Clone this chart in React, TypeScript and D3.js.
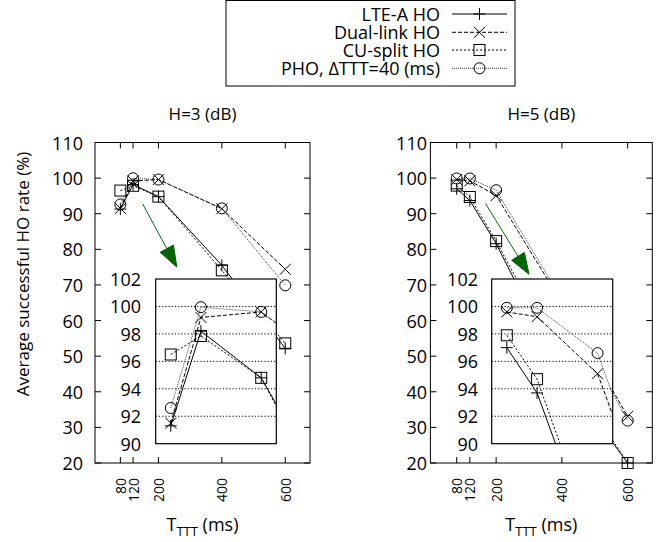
import React from 'react';
import * as d3 from 'd3';

// ---------- data ----------
const tttValues = [80, 120, 200, 400, 600];
const h3LTE = [91.3, 98.2, 94.8, 75.5, 52.2];
const h3Dual = [91.5, 99.2, 99.6, 91.4, 74.4];
const h3CU = [96.5, 97.85, 94.8, 74.1, 53.6];
const h3PHO = [92.6, 99.95, 99.6, 91.5, 69.9];
const h5LTE = [97.0, 93.7, 81.6, 45, 20];
const h5Dual = [99.6, 99.25, 95.1, 65, 33.1];
const h5CU = [97.9, 94.7, 82.3, 48, 20];
const h5PHO = [99.9, 99.9, 96.6, 66, 31.9];

const xTickValues = [80, 120, 200, 400, 600];
const yTickValues = [20, 30, 40, 50, 60, 70, 80, 90, 100, 110];
const insetTickValues = [90, 92, 94, 96, 98, 100, 102];
const seriesNames = ['LTE-A HO', 'Dual-link HO', 'CU-split HO', 'PHO, \u0394TTT=40 (ms)'];
const panelTitles = ['H=3 (dB)', 'H=5 (dB)'];
const yAxisTitle = 'Average successful HO rate (%)';
// arrow annotations in data coordinates [x0, y0, x1, y1]
const arrowH3 = [150, 92.8, 258, 75];
const arrowH5 = [168, 92.8, 300, 73];

// ---------- styles ----------
const FONT = 'Open Sans, Noto Sans, sans-serif';
const styles = [
  { dash: 'none', color: '#000', marker: 'plus', width: 1 },
  { dash: '4,2', color: '#000', marker: 'cross', width: 1 },
  { dash: '2,2', color: '#000', marker: 'square', width: 1 },
  { dash: '1,1', color: '#444', marker: 'circle', width: 1 },
];

function Marker({ type, x, y }: { type: string; x: number; y: number }) {
  const s = 5.5;
  const common = { fill: 'none', stroke: '#000', strokeWidth: 1 };
  if (type === 'plus')
    return <path d={`M${x - s - 0.5},${y}H${x + s + 0.5}M${x},${y - s - 0.5}V${y + s + 0.5}`} {...common} />;
  if (type === 'cross')
    return <path d={`M${x - s},${y - s}L${x + s},${y + s}M${x - s},${y + s}L${x + s},${y - s}`} {...common} />;
  if (type === 'square') return <rect x={x - s} y={y - s} width={2 * s} height={2 * s} {...common} />;
  return <circle cx={x} cy={y} r={s} {...common} />;
}

function Series({ xs, ys, xScale, yScale, style, clip }: any) {
  const line = d3
    .line<number>()
    .x((_, i) => xScale(xs[i]))
    .y((d) => yScale(d));
  return (
    <g clipPath={clip}>
      <path d={line(ys) || ''} fill="none" stroke={style.color} strokeWidth={style.width} strokeDasharray={style.dash} />
      {ys.map((v: number, i: number) => (
        <Marker key={i} type={style.marker} x={xScale(xs[i])} y={yScale(v)} />
      ))}
    </g>
  );
}

function Panel({ id, x0, x1, xMax, yLabelX, insetX0, insetX1, insetLabelX, data, title, arrow }: any) {
  const top = 142.5;
  const bottom = 463;
  const xScale = d3.scaleLinear().domain([0, xMax]).range([x0, x1]);
  const yScale = d3.scaleLinear().domain([20, 110]).range([bottom, top]);
  const iTop = 279;
  const iBottom = 443.7;
  const ixScale = d3.scaleLinear().domain([60, 220]).range([insetX0, insetX1]);
  const iyScale = d3.scaleLinear().domain([90, 102]).range([iBottom, iTop]);
  const tick = 6;
  const cx = (x0 + x1) / 2;

  // arrow
  const ax0 = xScale(arrow[0]);
  const ay0 = yScale(arrow[1]);
  const ax1 = xScale(arrow[2]);
  const ay1 = yScale(arrow[3]);
  const len = Math.hypot(ax1 - ax0, ay1 - ay0);
  const ux = (ax1 - ax0) / len;
  const uy = (ay1 - ay0) / len;
  const hl = 21;
  const hw = 7.5;
  const bx = ax1 - ux * hl;
  const by = ay1 - uy * hl;

  return (
    <g>
      <defs>
        <clipPath id={`inset-${id}`}>
          <rect x={insetX0} y={iTop} width={insetX1 - insetX0} height={iBottom - iTop} />
        </clipPath>
      </defs>
      <text x={cx} y={119.5} textAnchor="middle" fontSize={17} fontFamily={FONT}>
        {title}
      </text>
      {/* frame */}
      <rect x={x0} y={top} width={x1 - x0} height={bottom - top} fill="none" stroke="#000" strokeWidth={1} />
      {yTickValues.map((v) => (
        <g key={v}>
          <line x1={x0} x2={x0 + tick} y1={yScale(v)} y2={yScale(v)} stroke="#000" />
          <line x1={x1} x2={x1 - tick} y1={yScale(v)} y2={yScale(v)} stroke="#000" />
          <text x={yLabelX} y={yScale(v)} textAnchor="end" dominantBaseline="central" fontSize={18} fontFamily={FONT}>
            {v}
          </text>
        </g>
      ))}
      {xTickValues.map((v) => (
        <g key={v}>
          <line x1={xScale(v)} x2={xScale(v)} y1={bottom} y2={bottom - tick} stroke="#000" />
          <line x1={xScale(v)} x2={xScale(v)} y1={top} y2={top + tick} stroke="#000" />
          <text
            transform={`translate(${xScale(v)},478) rotate(-90)`}
            textAnchor="end"
            dominantBaseline="central"
            fontSize={14}
            fontFamily={FONT}
          >
            {v}
          </text>
        </g>
      ))}
      <text x={cx} y={531} textAnchor="middle" fontSize={18} fontFamily={FONT}>
        <tspan>T</tspan>
        <tspan fontSize={13} dy={5}>
          TTT
        </tspan>
        <tspan dy={-5}> (ms)</tspan>
      </text>
      {/* main series */}
      {data.map((ys: number[], i: number) => (
        <Series key={i} xs={tttValues} ys={ys} xScale={xScale} yScale={yScale} style={styles[i]} />
      ))}
      {/* arrow */}
      <line x1={ax0} y1={ay0} x2={bx} y2={by} stroke="#007000" strokeWidth={1} />
      <polygon
        points={`${ax1},${ay1} ${bx - uy * hw},${by + ux * hw} ${bx + uy * hw},${by - ux * hw}`}
        fill="#006400"
        stroke="#006400"
      />
      {/* inset */}
      <rect x={insetX0} y={iTop} width={insetX1 - insetX0} height={iBottom - iTop} fill="#fff" stroke="none" />
      {insetTickValues.slice(1, -1).map((v) => (
        <line
          key={v}
          x1={insetX0}
          x2={insetX1}
          y1={iyScale(v)}
          y2={iyScale(v)}
          stroke="#000"
          strokeWidth={1}
          strokeDasharray="1.2,2"
        />
      ))}
      {insetTickValues.map((v) => (
        <text key={v} x={insetLabelX} y={iyScale(v)} textAnchor="end" dominantBaseline="central" fontSize={18} fontFamily={FONT}>
          {v}
        </text>
      ))}
      {data.map((ys: number[], i: number) => (
        <Series
          key={i}
          xs={tttValues}
          ys={ys}
          xScale={ixScale}
          yScale={iyScale}
          style={styles[i]}
          clip={`url(#inset-${id})`}
        />
      ))}
      <rect x={insetX0} y={iTop} width={insetX1 - insetX0} height={iBottom - iTop} fill="none" stroke="#000" strokeWidth={1.2} />
    </g>
  );
}

export default function App() {
  const legendYs = [14, 32.3, 50, 68.3];
  return (
    <svg width={669} height={542} style={{ position: 'absolute', left: 0, top: 0, background: '#fff' }}>
      <rect width={669} height={542} fill="#fff" />
      {/* legend */}
      <rect x={226} y={0.5} width={289} height={85.5} fill="#fff" stroke="#000" strokeWidth={1} />
      {seriesNames.map((name, i) => (
        <g key={name}>
          <text x={440} y={legendYs[i]} textAnchor="end" dominantBaseline="central" fontSize={18} fontFamily={FONT}>
            {name}
          </text>
          <line
            x1={452}
            x2={507}
            y1={legendYs[i]}
            y2={legendYs[i]}
            stroke={styles[i].color}
            strokeDasharray={styles[i].dash}
            strokeWidth={1}
          />
          <Marker type={styles[i].marker} x={479.5} y={legendYs[i]} />
        </g>
      ))}
      <text
        transform={`translate(22,274) rotate(-90)`}
        textAnchor="middle"
        dominantBaseline="central"
        fontSize={17}
        fontFamily={FONT}
      >
        {yAxisTitle}
      </text>
      <Panel
        id="h3"
        x0={95}
        x1={310}
        xMax={678}
        yLabelX={83}
        insetX0={155.7}
        insetX1={276.3}
        insetLabelX={141}
        data={[h3LTE, h3Dual, h3CU, h3PHO]}
        title={panelTitles[0]}
        arrow={arrowH3}
      />
      <Panel
        id="h5"
        x0={430.4}
        x1={652.3}
        xMax={675}
        yLabelX={427}
        insetX0={491.7}
        insetX1={612.7}
        insetLabelX={478}
        data={[h5LTE, h5Dual, h5CU, h5PHO]}
        title={panelTitles[1]}
        arrow={arrowH5}
      />
    </svg>
  );
}
